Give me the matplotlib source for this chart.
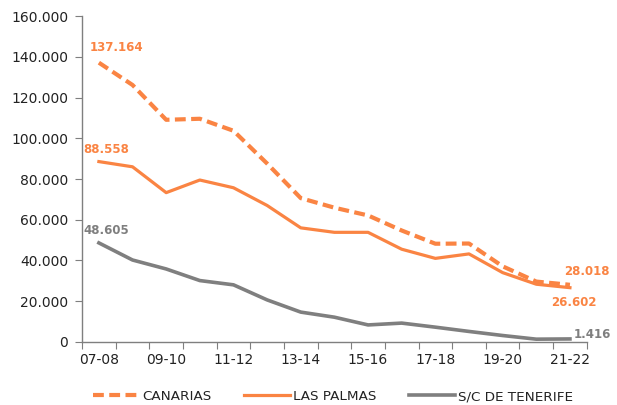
import matplotlib
matplotlib.use("Agg")
import matplotlib.pyplot as plt
from matplotlib.ticker import FixedLocator, FuncFormatter, NullFormatter
from matplotlib.lines import Line2D

seasons = ["07-08", "08-09", "09-10", "10-11", "11-12", "12-13", "13-14", "14-15",
           "15-16", "16-17", "17-18", "18-19", "19-20", "20-21", "21-22"]
canarias = [137164, 126200, 109100, 109600, 103700, 87600, 70600, 65900,
            62100, 54700, 48200, 48300, 37100, 29600, 28018]
las_palmas = [88558, 86000, 73300, 79500, 75700, 67000, 56000, 53800,
              53800, 45500, 41000, 43200, 34000, 28300, 26602]
tenerife = [48605, 40200, 35800, 30100, 28000, 20600, 14600, 12100,
            8300, 9200, 7200, 5100, 3100, 1300, 1416]
yticks = [0, 20000, 40000, 60000, 80000, 100000, 120000, 140000, 160000]

ORANGE = "#FA8443"
GREY = "#7F7F7F"
DASH = (0, (2.6, 1.3))

plt.rcParams["font.family"] = ["DejaVu Sans"]
fig = plt.figure(figsize=(6.17, 4.05), dpi=100)
ax = fig.add_axes([0.133, 0.156, 0.818, 0.804])

x = list(range(len(seasons)))
ax.plot(x, canarias, color=ORANGE, lw=3.0, ls=DASH, solid_capstyle="butt")
ax.plot(x, las_palmas, color=ORANGE, lw=2.3)
ax.plot(x, tenerife, color=GREY, lw=2.6)

fmt = lambda v: f"{v:,.0f}".replace(",", ".")
ax.set_ylim(0, 160000)
ax.set_xlim(-0.5, len(seasons) - 0.5)
ax.yaxis.set_major_locator(FixedLocator(yticks))
ax.yaxis.set_major_formatter(FuncFormatter(lambda v, p: fmt(v)))

ax.xaxis.set_major_locator(FixedLocator([i - 0.5 for i in range(len(seasons) + 1)]))
ax.xaxis.set_major_formatter(NullFormatter())
ax.xaxis.set_minor_locator(FixedLocator(x[::2]))
ax.set_xticklabels([seasons[i] for i in x[::2]], minor=True)
ax.tick_params(axis="x", which="minor", length=0, pad=8, labelsize=10, labelcolor="#222222")
ax.tick_params(axis="x", which="major", length=5, color=GREY, direction="out")
ax.tick_params(axis="y", length=5, color=GREY, labelsize=10, labelcolor="#222222", pad=5)

for s in ["top", "right"]:
    ax.spines[s].set_visible(False)
for s in ["left", "bottom"]:
    ax.spines[s].set_color(GREY)
    ax.spines[s].set_linewidth(1.0)

kw = dict(fontsize=8.5, fontweight="bold", textcoords="offset points")
ax.annotate(fmt(canarias[0]), (x[0], canarias[0]), xytext=(13, 6),
            ha="center", va="bottom", color=ORANGE, **kw)
ax.annotate(fmt(las_palmas[0]), (x[0], las_palmas[0]), xytext=(5, 4),
            ha="center", va="bottom", color=ORANGE, **kw)
ax.annotate(fmt(tenerife[0]), (x[0], tenerife[0]), xytext=(5, 4),
            ha="center", va="bottom", color=GREY, **kw)
ax.annotate(fmt(canarias[-1]), (x[-1], canarias[-1]), xytext=(12.5, 5),
            ha="center", va="bottom", color=ORANGE, **kw)
ax.annotate(fmt(las_palmas[-1]), (x[-1], las_palmas[-1]), xytext=(3, -6),
            ha="center", va="top", color=ORANGE, **kw)
ax.annotate(fmt(tenerife[-1]), (x[-1], tenerife[-1]), xytext=(3, 3),
            ha="left", va="center", color=GREY, **kw)

handles = [
    Line2D([], [], color=ORANGE, lw=3.0, ls=DASH),
    Line2D([], [], color=ORANGE, lw=2.3),
    Line2D([], [], color=GREY, lw=2.6),
]
fig.legend(handles, ["CANARIAS", "LAS PALMAS", "S/C DE TENERIFE"], loc="lower center",
           bbox_to_anchor=(0.54, -0.025), ncol=3, frameon=False, fontsize=9.7,
           handlelength=3.4, handletextpad=0.25, columnspacing=2.4, labelcolor="#222222")

fig.savefig("out.png", dpi=100)
